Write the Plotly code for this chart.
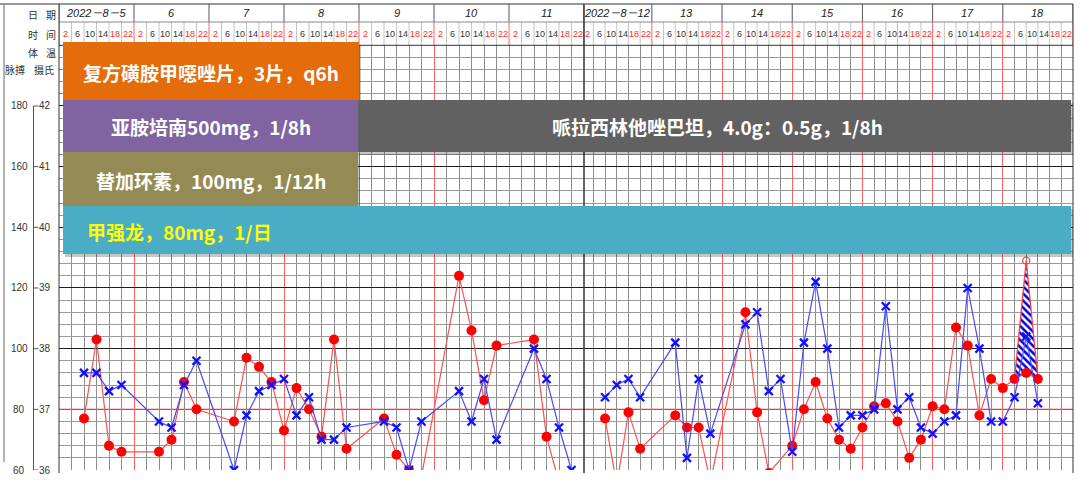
import plotly.graph_objects as go

W, H = 1080, 483

# ---------------- data ----------------
week1_dates = ["2022－8－5", "6", "7", "8", "9", "10", "11"]
week2_dates = ["2022－8－12", "13", "14", "15", "16", "17", "18"]
time_labels = ["2", "6", "10", "14", "18", "22"]

pulse_ticks = [180, 160, 140, 120, 100, 80, 60]
temp_ticks = [42, 41, 40, 39, 38, 37, 36]

# one value per 4-hour slot (42 slots per week); None = not recorded
week1_pulse = [None, None, 77, 103, 68, 66, None, None, 66, 70, 89, 80,
               None, None, 76, 97, 94, 89, 73, 87, 80, 71, 103, 67,
               None, None, 77, 65, 60, 58, None, None, 124, 106, 83, 101,
               None, None, 103, 71, 56, None]
week1_temp = [None, None, 37.6, 37.6, 37.3, 37.4, None, None, 36.8, 36.7, 37.4, 37.8,
              None, None, 36.0, 36.9, 37.3, 37.4, 37.5, 36.9, 37.2, 36.5, 36.5, 36.7,
              None, None, 36.8, 36.7, 36.0, 36.8, None, None, 37.3, 36.8, 37.5, 36.5,
              None, None, 38.0, 37.5, 36.7, 36.0]
week2_pulse = [None, None, 77, 55, 79, 67, None, None, 78, 74, 74, 56,
               None, None, 112, 79, 59, None, 68, 80, 89, 77, 70, 67,
               74, 81, 82, 76, 64, 70, 81, 80, 107, 101, 78, 90,
               87, 90, 92, 90, None, None]
week2_temp = [None, None, 37.2, 37.4, 37.5, 37.2, None, None, 38.1, 36.2, 37.5, 36.6,
              None, None, 38.4, 38.6, 37.3, 37.5, 36.3, 38.1, 39.1, 38.0, 36.7, 36.9,
              36.9, 37.0, 38.7, 37.0, 37.2, 36.7, 36.6, 36.8, 36.9, 39.0, 38.0, 36.8,
              36.8, 37.2, 38.2, 37.1, None, None]
week2_heart_slots = [37, 38, 39]
week2_heart = [90, 129, 90]

medications = ["复方磺胺甲噁唑片，3片，q6h", "亚胺培南500mg，1/8h",
               "哌拉西林他唑巴坦，4.0g：0.5g，1/8h", "替加环素，100mg，1/12h",
               "甲强龙，80mg，1/日"]

# ---------------- helpers ----------------
def px_x(x):
    return x / W


def px_y(y):
    return 1 - y / H


def pulse_to_temp(p):
    return 36 + (p - 60) / 20.0


L, M, R = 59, 584, 1073
TOP, BOT = 45.3, 470

BLUE = "#1010ff"
CJK = "Noto Sans CJK SC"
NARROW = "Liberation Sans Narrow, Liberation Sans, Arial"

fig = go.Figure()

# hatched area between heart rate and pulse
base = [pulse_to_temp(week2_pulse[s]) for s in week2_heart_slots]
fig.add_trace(go.Scatter(x=week2_heart_slots, y=base, xaxis="x2", yaxis="y",
                         mode="lines", line=dict(width=0, color="rgba(0,0,0,0)"),
                         hoverinfo="skip", showlegend=False))
fig.add_trace(go.Scatter(x=week2_heart_slots, y=[pulse_to_temp(v) for v in week2_heart],
                         xaxis="x2", yaxis="y", mode="lines",
                         line=dict(color="#ff4040", width=1.3),
                         fill="tonexty", fillcolor="white",
                         fillpattern=dict(shape="\\", fgcolor="#0000dd", bgcolor="white",
                                          fgopacity=1, size=5, solidity=0.5),
                         hoverinfo="skip", showlegend=False))
fig.add_trace(go.Scatter(x=[week2_heart_slots[1]], y=[pulse_to_temp(week2_heart[1])],
                         xaxis="x2", yaxis="y", mode="markers",
                         marker=dict(symbol="circle-open", size=7, color="#ff4040",
                                     line=dict(width=1.3, color="#ff4040")),
                         showlegend=False))

for xa, pulse, temp in [("x", week1_pulse, week1_temp), ("x2", week2_pulse, week2_temp)]:
    px_ = [i for i, v in enumerate(pulse) if v is not None]
    py_ = [pulse_to_temp(pulse[i]) for i in px_]
    fig.add_trace(go.Scatter(x=px_, y=py_, xaxis=xa, yaxis="y", mode="lines+markers",
                             line=dict(color="#ff5050", width=1.2),
                             marker=dict(symbol="circle", size=10, color="#ff0000"),
                             showlegend=False))
    tx = [i for i, v in enumerate(temp) if v is not None]
    ty = [temp[i] for i in tx]
    fig.add_trace(go.Scatter(x=tx, y=ty, xaxis=xa, yaxis="y", mode="lines+markers",
                             line=dict(color="#4a4af0", width=1.2),
                             marker=dict(symbol="x-thin", size=8,
                                         line=dict(width=2.3, color=BLUE)),
                             showlegend=False))

axis_common = dict(showticklabels=False, ticks="", zeroline=False, showline=False,
                   tick0=0, dtick=6, showgrid=True, gridcolor="#ff6060", gridwidth=1,
                   minor=dict(tick0=0, dtick=1, showgrid=True, gridcolor="#8e8e8e",
                              gridwidth=1),
                   fixedrange=True)

# major (black) horizontal lines at whole degrees except 37 (drawn red), minor every 0.2
major_y = [v for v in range(36, 44) if v != 37]
minor_y = [round(36 + 0.2 * i, 1) for i in range(36) if i % 5 != 0]

fig.update_layout(
    width=W, height=H, margin=dict(l=0, r=0, t=0, b=0),
    paper_bgcolor="white", plot_bgcolor="white", showlegend=False,
    xaxis=dict(domain=[px_x(L), px_x(M)], range=[0, 42], anchor="y", **axis_common),
    xaxis2=dict(domain=[px_x(M), px_x(R)], range=[0.2, 42], anchor="y", **axis_common),
    yaxis=dict(domain=[px_y(BOT), px_y(TOP)], range=[36, 43], anchor="x",
               showticklabels=False, ticks="", zeroline=False, showline=False,
               tickmode="array", tickvals=major_y,
               showgrid=True, gridcolor="#1e1e1e", gridwidth=1,
               minor=dict(tickmode="array", tickvals=minor_y, showgrid=True,
                          gridcolor="#9a9a9a", gridwidth=1),
               fixedrange=True),
)

shapes = []
annotations = []


def note(x, y, text, font, xref="paper", yref="paper", xanchor="center"):
    annotations.append(dict(x=x, y=y, xref=xref, yref=yref, text=text, showarrow=False,
                            xanchor=xanchor, yanchor="middle", font=font))


# red 37 line
shapes.append(dict(type="line", xref="paper", yref="y", x0=px_x(L), x1=px_x(R), y0=37, y1=37,
                   line=dict(color="#ff3030", width=1.3), layer="between"))

# header grid
for xa, dates in [("x", week1_dates), ("x2", week2_dates)]:
    for k in range(43):
        if xa == "x2" and k == 0:
            continue
        if k % 6 == 0:
            shapes.append(dict(type="line", xref=xa, yref="paper", x0=k, x1=k,
                               y0=px_y(4), y1=px_y(22), line=dict(color="#555555", width=1)))
            shapes.append(dict(type="line", xref=xa, yref="paper", x0=k, x1=k,
                               y0=px_y(22), y1=px_y(TOP), line=dict(color="#ff6060", width=1)))
        else:
            shapes.append(dict(type="line", xref=xa, yref="paper", x0=k, x1=k,
                               y0=px_y(22), y1=px_y(TOP), line=dict(color="#c4c4c4", width=1)))
    for d, lab in enumerate(dates):
        note(6 * d + 3, px_y(13.5), "<i>" + lab + "</i>",
             dict(family="Liberation Sans, " + CJK, size=11, color="#222"), xref=xa)
        for s, t in enumerate(time_labels):
            col = "#ff2a2a" if s in (0, 4, 5) else "#333333"
            note(6 * d + s + 0.5, px_y(33.5), t, dict(family=NARROW, size=9, color=col), xref=xa)

# borders
line_dark = dict(color="#333333", width=1)
shapes += [
    dict(type="line", xref="paper", yref="paper", x0=0, x1=px_x(R), y0=px_y(4), y1=px_y(4), line=line_dark),
    dict(type="line", xref="paper", yref="paper", x0=px_x(L), x1=px_x(R), y0=px_y(22), y1=px_y(22),
         line=dict(color="#888888", width=1)),
    dict(type="line", xref="paper", yref="paper", x0=px_x(L), x1=px_x(R), y0=px_y(TOP), y1=px_y(TOP), line=line_dark),
    dict(type="line", xref="paper", yref="paper", x0=px_x(L), x1=px_x(L), y0=px_y(4), y1=px_y(BOT + 3), line=line_dark),
    dict(type="line", xref="paper", yref="paper", x0=px_x(M), x1=px_x(M), y0=px_y(4), y1=px_y(BOT + 3),
         line=dict(color="#333333", width=1.5)),
    dict(type="line", xref="paper", yref="paper", x0=px_x(R), x1=px_x(R), y0=px_y(4), y1=px_y(BOT + 3), line=line_dark),
    dict(type="line", xref="paper", yref="paper", x0=px_x(4), x1=px_x(4), y0=px_y(4), y1=px_y(462),
         line=dict(color="#666666", width=1)),
    # temperature bracket
    dict(type="line", xref="paper", yref="y", x0=px_x(33.5), x1=px_x(33.5), y0=36, y1=42,
         line=dict(color="#555555", width=1)),
]
for t in temp_ticks:
    shapes.append(dict(type="line", xref="paper", yref="y", x0=px_x(33.5), x1=px_x(38.5), y0=t, y1=t,
                       line=dict(color="#555555", width=1)))

for p, t in zip(pulse_ticks, temp_ticks):
    note(px_x(19.5), t, str(p), dict(family=NARROW, size=10, color="#333"), yref="y")
    note(px_x(44.5), t, str(t), dict(family=NARROW, size=10, color="#333"), yref="y")

# left header labels
for txt, x, y in [("日", 33, 15), ("期", 51, 15), ("时", 33, 34), ("间", 51, 34),
                  ("体", 33, 52), ("温", 51, 52), ("脉搏", 15, 70), ("摄氏", 44, 70)]:
    note(px_x(x), px_y(y), txt, dict(family=CJK, size=10, color="#333"))

# medication banners
banners = [
    (medications[0], 63, 359, 42, 100, "#E46C0A", "white", 211, "center"),
    (medications[1], 63, 358, 100, 152, "#8064A2", "white", 211, "center"),
    (medications[2], 358, 1071, 100, 152, "#616161", "white", 717, "center"),
    (medications[3], 63, 358, 152, 206, "#948A54", "white", 211, "center"),
    (medications[4], 63, 1071, 206, 254, "#4BACC6", "#FFFF00", 85, "left"),
]
for text, x0, x1, y0, y1, fill, tcol, tx, anchor in banners:
    shapes.append(dict(type="rect", xref="paper", yref="paper",
                       x0=px_x(x0 + 2), x1=px_x(x1 + 2), y0=px_y(y0 + 3), y1=px_y(y1 + 3),
                       fillcolor="rgba(0,0,0,0.22)", line=dict(width=0), layer="above"))
    shapes.append(dict(type="rect", xref="paper", yref="paper",
                       x0=px_x(x0), x1=px_x(x1), y0=px_y(y0), y1=px_y(y1),
                       fillcolor=fill, line=dict(width=0), layer="above"))
    note(px_x(tx), px_y((y0 + y1) / 2 + 1), "<b>" + text + "</b>",
         dict(family=CJK, size=19, color=tcol), xanchor=anchor)

# cropped bottom edge of the sheet
shapes.append(dict(type="rect", xref="paper", yref="paper", x0=0, x1=1, y0=0, y1=px_y(473.5),
                   fillcolor="white", line=dict(width=0), layer="above"))

fig.update_layout(shapes=shapes, annotations=annotations)
fig.write_html("out.html", config={"displayModeBar": False},
               post_script="document.body.style.margin='0';document.body.style.overflow='hidden';")
